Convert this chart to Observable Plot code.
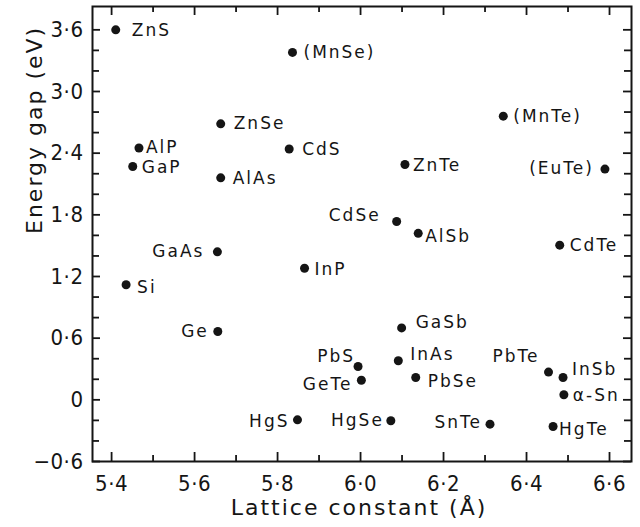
<!DOCTYPE html>
<html><head><meta charset="utf-8">
<script src="https://cdn.jsdelivr.net/npm/d3@7"></script>
<script src="https://cdn.jsdelivr.net/npm/@observablehq/plot@0.6"></script>
<style>
body{margin:0;background:#fff;}
#chart svg{display:block;}
#chart svg text{letter-spacing:2px;}
#chart svg g[aria-label="x-axis tick label"] text,
#chart svg g[aria-label="y-axis tick label"] text{letter-spacing:0.5px;font-family:"DejaVu Sans Condensed","DejaVu Sans",sans-serif;font-stretch:condensed;}
</style></head><body><div id="chart"></div>
<script>
// ---- data ----
const compounds = ["ZnS","(MnSe)","ZnSe","AlP","GaP","CdS","AlAs","GaAs","(MnTe)","ZnTe","(EuTe)","CdSe","AlSb","CdTe","InP","Si","Ge","HgS","GaSb","PbS","InAs","GeTe","PbSe","HgSe","SnTe","PbTe","InSb","α-Sn","HgTe"];
const latticeConstant = [5.41,5.836,5.663,5.466,5.451,5.828,5.663,5.655,6.344,6.107,6.589,6.087,6.139,6.48,5.865,5.435,5.656,5.848,6.099,5.994,6.091,6.002,6.133,6.073,6.312,6.453,6.488,6.49,6.464];
const energyGap = [3.60,3.38,2.685,2.45,2.27,2.44,2.16,1.44,2.76,2.29,2.245,1.735,1.62,1.505,1.28,1.12,0.665,-0.195,0.70,0.324,0.38,0.19,0.217,-0.204,-0.237,0.27,0.217,0.049,-0.26];

const xMajorTicks = [5.4,5.6,5.8,6.0,6.2,6.4,6.6];
const xMinorTicks = [5.5,5.7,5.9,6.1,6.3,6.5];
const yMajorTicks = [-0.6,0,0.6,1.2,1.8,2.4,3.0,3.6];
const yMinorTicks = [-0.4,-0.2,0.2,0.4,0.8,1.0,1.4,1.6,2.0,2.2,2.6,2.8,3.2,3.4];
const xLabel = "Lattice constant (Å)";
const yLabel = "Energy gap (eV)";

// ---- label placement (layout only): [anchor, dx, dy] ----
const placement = {
  "ZnS":["start",16,1], "(MnSe)":["start",11,0], "ZnSe":["start",13,0], "AlP":["start",7,0],
  "GaP":["start",9,1], "CdS":["start",13,0], "AlAs":["start",12,1], "GaAs":["end",-13,0],
  "(MnTe)":["start",10,0], "ZnTe":["start",8,1], "(EuTe)":["end",-11,-1], "CdSe":["end",-16,-6],
  "AlSb":["start",7,3], "CdTe":["start",10,0], "InP":["start",10,1], "Si":["start",11,3],
  "Ge":["end",-9,0], "HgS":["end",-8,2], "GaSb":["start",14,-5], "PbS":["end",-3,-10],
  "InAs":["start",12,-6], "GeTe":["end",-9,4], "PbSe":["start",12,4], "HgSe":["end",-7,0],
  "SnTe":["end",-8,-2], "PbTe":["end",-9,-16], "InSb":["start",9,-8], "α-Sn":["start",9,1],
  "HgTe":["start",6,3]
};

const rows = compounds.map((name, i) => ({name, a: latticeConstant[i], eg: energyGap[i]}));
const fmt = d => d === 0 ? "0" : d3.format(".1f")(d).replace(".", "·").replace("-", "−");

const W = 640, H = 527, mL = 92, mT = 6, mR = 9, mB = 66;
const innerH = H - mT - mB, innerW = W - mL - mR;
const ink = "#151515";

const labelMarks = rows.map(r => {
  const [anchor, dx, dy] = placement[r.name];
  return Plot.text([r], {x: "a", y: "eg", text: "name", textAnchor: anchor, dx, dy, fontSize: 17, fill: ink});
});

const chart = Plot.plot({
  width: W, height: H,
  marginLeft: mL, marginTop: mT, marginRight: mR, marginBottom: mB,
  style: {fontFamily: "'DejaVu Sans', sans-serif", background: "#fff", color: ink},
  x: {domain: [5.354, 6.653]},
  y: {domain: [-0.6, 3.827]},
  marks: [
    Plot.axisX(xMajorTicks, {tickSize: 0, tickPadding: 14, tickFormat: fmt, fontSize: 22, label: null}),
    Plot.axisY(yMajorTicks, {tickSize: 0, tickPadding: 9, tickFormat: fmt, fontSize: 22, label: null}),
    // inward ticks on all four sides
    Plot.tickX(xMajorTicks, {x: d => d, insetTop: innerH - 9, stroke: ink, strokeWidth: 1.8}),
    Plot.tickX(xMinorTicks, {x: d => d, insetTop: innerH - 6, stroke: ink, strokeWidth: 1.8}),
    Plot.tickX(xMajorTicks, {x: d => d, insetBottom: innerH - 9, stroke: ink, strokeWidth: 1.8}),
    Plot.tickX(xMinorTicks, {x: d => d, insetBottom: innerH - 6, stroke: ink, strokeWidth: 1.8}),
    Plot.tickY(yMajorTicks, {y: d => d, insetRight: innerW - 8, stroke: ink, strokeWidth: 1.8}),
    Plot.tickY(yMinorTicks, {y: d => d, insetRight: innerW - 7, stroke: ink, strokeWidth: 1.8}),
    Plot.tickY(yMajorTicks, {y: d => d, insetLeft: innerW - 8, stroke: ink, strokeWidth: 1.8}),
    Plot.tickY(yMinorTicks, {y: d => d, insetLeft: innerW - 7, stroke: ink, strokeWidth: 1.8}),
    Plot.frame({stroke: ink, strokeWidth: 2}),
    Plot.dot(rows, {x: "a", y: "eg", r: 4.5, fill: ink, stroke: "none"}),
    ...labelMarks,
    Plot.text([xLabel], {frameAnchor: "bottom", lineAnchor: "middle", dy: 46, dx: -3, fontSize: 22, fill: ink}),
    Plot.text([yLabel], {frameAnchor: "left", lineAnchor: "middle", dx: -58, dy: 0, rotate: -90, fontSize: 22, fill: ink})
  ]
});
document.getElementById("chart").appendChild(chart);
</script>
</body></html>
